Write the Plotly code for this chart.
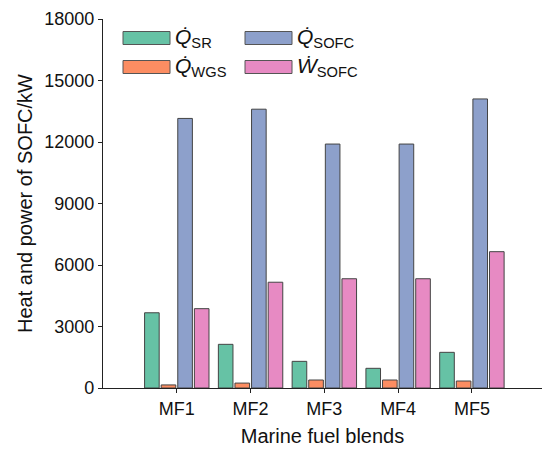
import plotly.graph_objects as go

categories = ["MF1", "MF2", "MF3", "MF4", "MF5"]
q_sr = [3670, 2130, 1300, 960, 1740]
q_wgs = [150, 240, 390, 390, 340]
q_sofc = [13150, 13600, 11900, 11900, 14100]
w_sofc = [3870, 5160, 5330, 5330, 6650]
y_ticks = [0, 3000, 6000, 9000, 12000, 15000, 18000]

series_names = ["<i>Q̇</i><sub>SR</sub>", "<i>Q̇</i><sub>WGS</sub>",
                "<i>Q̇</i><sub>SOFC</sub>", "<i>Ẇ</i><sub>SOFC</sub>"]
series_vals = [q_sr, q_wgs, q_sofc, w_sofc]
colors = ["#66c2a5", "#fc8d62", "#8da0cb", "#e78ac3"]

xpos = list(range(1, len(categories) + 1))

fig = go.Figure()
for name, vals, c in zip(series_names, series_vals, colors):
    fig.add_trace(go.Bar(x=xpos, y=vals, name=name, marker=dict(color=c, line=dict(color="#444444", width=1)),
                         showlegend=False))

fig.update_layout(
    width=542, height=450,
    margin=dict(l=103, r=0, t=19, b=62),
    plot_bgcolor="white", paper_bgcolor="white",
    barmode="group", bargap=0.1, bargroupgap=0.12,
    font=dict(family="Liberation Sans, Arial, sans-serif", color="#111111", size=18),
    xaxis=dict(range=[0, 5.95], tickvals=xpos, ticktext=categories, showline=True, linecolor="#222222",
               linewidth=1.2, ticks="outside", ticklen=4, tickcolor="#222222", showgrid=False, zeroline=False,
               title=dict(text="Marine fuel blends", font=dict(size=20), standoff=11), tickfont=dict(size=18)),
    yaxis=dict(range=[0, 18000], tickvals=y_ticks, ticktext=[str(v) for v in y_ticks], showline=True,
               linecolor="#222222", linewidth=1.2, ticks="outside", ticklen=4, tickcolor="#222222",
               showgrid=False, zeroline=False, tickfont=dict(size=18),
               title=dict(text="Heat and power of SOFC/kW", font=dict(size=20), standoff=6)),
)

# custom legend (two columns)
leg_pos = [(123, 38), (123, 67), (245, 38), (245, 67)]
for (px, py), name, c in zip(leg_pos, series_names, colors):
    x0 = (px - 103) / 439
    x1 = (px + 47 - 103) / 439
    y0 = (388 - (py + 6.5)) / 369
    y1 = (388 - (py - 6.5)) / 369
    fig.add_shape(type="rect", xref="paper", yref="paper", x0=x0, x1=x1, y0=y0, y1=y1,
                  fillcolor=c, line=dict(color="#555555", width=1))
    fig.add_annotation(xref="paper", yref="paper", x=(px + 50 - 103) / 439, y=(388 - py) / 369,
                       text=name, showarrow=False, xanchor="left", yanchor="middle",
                       font=dict(size=21, color="#111111"))

fig.write_html("out.html")
